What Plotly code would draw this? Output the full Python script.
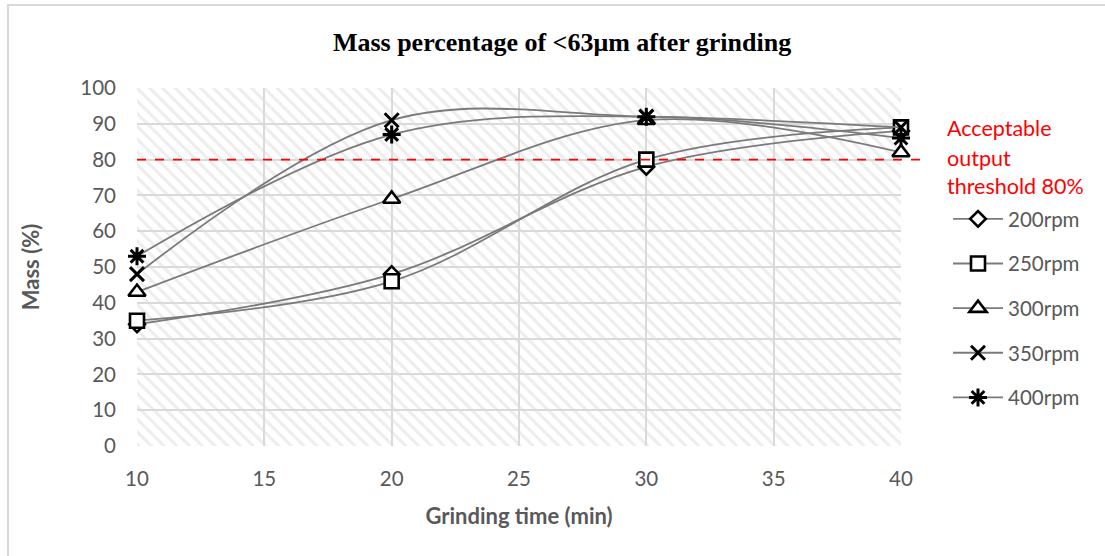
import plotly.graph_objects as go

# Grinding time (min) and mass fraction below 63 µm (%) for each mill speed
grinding_time = [10, 20, 30, 40]
mass_200rpm = [34, 48, 78, 88]
mass_250rpm = [35, 46, 80, 89]
mass_300rpm = [43, 69, 91, 82]
mass_350rpm = [48, 91, 92, 89]
mass_400rpm = [53, 87, 92, 86]

series_names = ["200rpm", "250rpm", "300rpm", "350rpm", "400rpm"]
series_values = [mass_200rpm, mass_250rpm, mass_300rpm, mass_350rpm, mass_400rpm]

threshold = 80
x_ticks = [10, 15, 20, 25, 30, 35, 40]
y_ticks = [0, 10, 20, 30, 40, 50, 60, 70, 80, 90, 100]
x_range = [10, 40]
y_range = [0, 100]

TXT = "#595959"
GRID = "#d9d9d9"
FONT = "Lato"

marker_styles = [
    dict(symbol="diamond", size=12, color="white", line=dict(color="black", width=2.6)),
    dict(symbol="square", size=14, color="white", line=dict(color="black", width=2.6)),
    dict(symbol="triangle-up", size=15, color="white", line=dict(color="black", width=2.6)),
    dict(symbol="x-thin-open", size=14, color="black", line=dict(color="black", width=3)),
    dict(symbol="asterisk-open", size=15, color="black", line=dict(color="black", width=3)),
]

fig = go.Figure()

# hatched plot-area background
fig.add_trace(go.Scatter(
    x=[x_range[0], x_range[1], x_range[1], x_range[0], x_range[0]],
    y=[y_range[0], y_range[0], y_range[1], y_range[1], y_range[0]],
    mode="lines", fill="toself", line=dict(width=0),
    fillcolor="rgba(0,0,0,0)",
    fillpattern=dict(shape="\\", fgcolor="#dcdcdc", bgcolor="rgba(0,0,0,0)",
                     size=9, solidity=0.35),
    hoverinfo="skip", showlegend=False,
))

for i, (name, vals, mk) in enumerate(zip(series_names, series_values, marker_styles)):
    fig.add_trace(go.Scatter(
        x=grinding_time, y=vals, name=name, legendgroup=name,
        mode="lines+markers",
        line=dict(color="#7a7a7a", width=1.8, shape="spline", smoothing=1.0),
        marker=mk, cliponaxis=False,
    ))

# outer chart frame
fig.add_shape(type="rect", xref="paper", yref="paper",
              x0=(8 - 137) / 764, x1=(1112 - 137) / 764,
              y0=(446 - 562) / 358, y1=(446 - 5) / 358,
              line=dict(color=GRID, width=2), fillcolor="rgba(0,0,0,0)", layer="below")

# acceptable output threshold line
fig.add_shape(type="line", xref="paper", yref="y",
              x0=0, x1=(927 - 137) / 764, y0=threshold, y1=threshold,
              line=dict(color="#ff0000", width=1.8, dash="dash"))

for txt, yy in [("Acceptable", 88.8), ("output", 80.4), ("threshold 80%", 72.6)]:
    fig.add_annotation(text=txt, xref="paper", yref="y",
                       x=(945 - 137) / 764, y=yy, xanchor="left", yanchor="middle",
                       showarrow=False, font=dict(family=FONT, size=21.5, color="#ff0000"))

fig.update_layout(
    width=1105, height=556,
    margin=dict(l=137, r=204, t=88, b=110),
    paper_bgcolor="white", plot_bgcolor="white",
    font=dict(family=FONT, color=TXT),
    title=dict(text="<b>Mass percentage of &lt;63μm after grinding</b>",
               x=562 / 1105, xref="container", xanchor="center",
               y=1 - 42 / 556, yanchor="middle",
               font=dict(family="Liberation Serif", size=26, color="black")),
    xaxis=dict(range=x_range, tickvals=x_ticks, showgrid=True, gridcolor=GRID, gridwidth=2,
               zeroline=False, showline=False, ticks="", ticklabelstandoff=18,
               tickfont=dict(size=20.5, color=TXT),
               title=dict(text="<b>Grinding time (min)</b>",
                          font=dict(family=FONT, size=22, color=TXT), standoff=20)),
    yaxis=dict(range=y_range, tickvals=y_ticks, showgrid=True, gridcolor=GRID, gridwidth=2,
               zeroline=False, showline=False, ticks="", ticklabelstandoff=20,
               tickfont=dict(size=20.5, color=TXT),
               title=dict(text="<b>Mass (%)</b>",
                          font=dict(family=FONT, size=22, color=TXT), standoff=34)),
    legend=dict(x=(948 - 137) / 764, xanchor="left", y=(446 - 199) / 358, yanchor="top",
                font=dict(family=FONT, size=20.5, color=TXT), itemwidth=50,
                tracegroupgap=15, traceorder="grouped", bgcolor="rgba(0,0,0,0)"),
    showlegend=True,
)

fig.write_html("out.html")
